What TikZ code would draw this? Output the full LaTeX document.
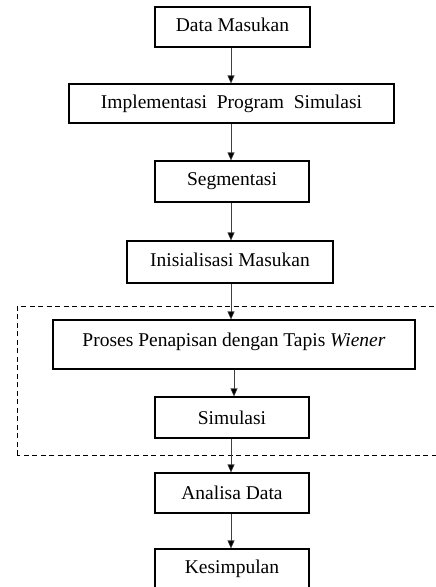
\documentclass[tikz,border=0pt]{standalone}
\usepackage{fontspec}
\setmainfont{Liberation Serif}
\usetikzlibrary{arrows.meta}
\begin{document}
\begin{tikzpicture}[x=1pt,y=-1pt,
  box/.style={draw=black,line width=1.1pt,inner sep=0pt,font=\fontsize{19.5}{22}\selectfont,anchor=center},
  conn/.style={draw=black!75,line width=0.6pt,-{Triangle[length=8pt,width=7pt,fill=black]}},
  dashbox/.style={draw=black,line width=0.9pt,dash pattern=on 5pt off 3.5pt}]
\useasboundingbox (0,0) rectangle (436,587);
\clip (0,0) rectangle (436,587);
\fill[white] (0,0) rectangle (436,587);
\coordinate (col) at (231,0);
\draw[dashbox] (17,455) -- (17,306) -- (445,306) (445,455) -- (17,455);
\node[box,minimum width=155pt,minimum height=40pt] (b1) at (232.5,27) {Data Masukan\rule[-4pt]{0pt}{0pt}};
\node[box,minimum width=325pt,minimum height=39pt] (b2) at (231.5,103.5) {Implementasi\ \ Program\ \ Simulasi};
\node[box,minimum width=154pt,minimum height=41pt] (b3) at (232,181.5) {Segmentasi};
\node[box,minimum width=206pt,minimum height=42pt] (b4) at (230,262) {Inisialisasi\ Masukan\rule[-5pt]{0pt}{0pt}};
\node[box,minimum width=362pt,minimum height=49pt] (b5) at (234,344.5) {Proses Penapisan dengan Tapis \textit{Wiener}\rule[-10pt]{0pt}{0pt}};
\node[box,minimum width=154pt,minimum height=41pt] (b6) at (232,417.5) {Simulasi};
\node[box,minimum width=154pt,minimum height=40pt] (b7) at (232,493) {Analisa\ Data};
\node[box,minimum width=154pt,minimum height=40pt] (b8) at (232,569) {Kesimpulan\rule[-3pt]{0pt}{0pt}};
\draw[conn] (b1.south -| col) -- (b2.north -| col);
\draw[conn] (b2.south -| col) -- (b3.north -| col);
\draw[conn] (b3.south -| col) -- (b4.north -| col);
\draw[conn] (b4.south -| col) -- (b5.north -| col);
\draw[conn] ([xshift=3pt]b5.south -| col) -- ([xshift=3pt]b6.north -| col);
\draw[conn] (b6.south -| col) -- (b7.north -| col);
\draw[conn] (b7.south -| col) -- (b8.north -| col);
\end{tikzpicture}
\end{document}
